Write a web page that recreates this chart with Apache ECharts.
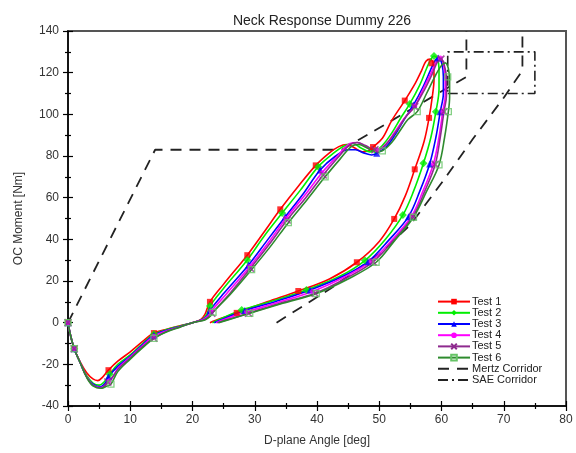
<!DOCTYPE html>
<html><head><meta charset="utf-8">
<script src="https://cdn.jsdelivr.net/npm/echarts@6/dist/echarts.min.js"></script>
<style>html,body{margin:0;padding:0;background:#fff}#c{width:576px;height:453px}</style>
</head><body><div id="c"></div>
<script>
const chartTitle = 'Neck Response Dummy 226';
const xAxisName = 'D-plane Angle [deg]';
const yAxisName = 'OC Moment [Nm]';
const xTicks = [0,10,20,30,40,50,60,70,80];
const yTicks = [-40,-20,0,20,40,60,80,100,120,140];
const testNames = ['Test 1','Test 2','Test 3','Test 4','Test 5','Test 6'];
const corridorNames = ['Mertz Corridor','SAE Corridor'];

const test1Curve = [[0,0],[0.4,-6],[1,-12.5],[2,-19],[3,-24],[4,-27],[4.8,-27.8],[5.6,-26],[6.5,-22.8],[8,-18.5],[10,-14],[12,-9],[13.8,-5],[16,-3],[18,-1.5],[20,0],[21.3,1.5],[22,4],[22.8,10],[25,18.5],[28.8,32.4],[31.5,43.5],[34.1,54.4],[37,65.5],[39.8,75.5],[42,81.5],[43.5,84.5],[44.8,85.5],[46,84],[47.3,82],[48.3,82.5],[49,84.3],[50.5,88.5],[52,97],[54.1,106.6],[55.8,115],[56.8,121],[57.5,125.5],[58.2,126.5],[58.7,124],[58.8,117],[58.5,108],[58,98.3],[57.2,87],[55.7,73.6],[54.2,61],[52.4,49.8],[50,39],[46.4,29],[42,21],[37,15.2],[32,10],[27.1,4.7],[24.5,2],[22.8,0]];
const test1Marks = [[0,0],[1,-12.5],[6.5,-22.8],[13.8,-5],[22.8,10],[28.8,32.4],[34.1,54.4],[39.8,75.5],[49,84.3],[54.1,106.6],[58.4,124.5],[58,98.3],[55.7,73.6],[52.4,49.8],[46.4,29],[37,15.2],[27.1,4.7]];

const test2Curve = [[0,0],[0.4,-6],[1,-12.5],[2,-19.5],[3,-25.5],[4,-29],[5,-30],[5.8,-28.5],[6.7,-24.7],[8,-20],[10,-15.5],[12,-10],[13.8,-5.5],[16,-3.2],[18,-1.6],[20,0],[21.5,1.5],[22.3,4],[22.8,8],[25,16.5],[28.8,30.1],[31.5,41.5],[34.4,52.6],[37.3,63.5],[40.2,74.9],[42.5,81],[44.5,85],[45.8,86],[47,84],[48.5,82],[49.5,82.5],[50.5,85],[52,91],[53.5,98.5],[54.9,105],[56.5,114],[57.6,122],[58.3,126.5],[58.8,128],[59.3,127],[59.6,122],[59.6,112],[59.1,101.3],[58.3,89],[57.1,76.5],[55.5,63],[53.8,51.7],[51,40],[47.7,29.8],[43.5,22],[38.3,15.7],[33,10.5],[27.9,6.1],[25,2.5],[23.2,0]];
const test2Marks = [[0,0],[1,-12.5],[6.7,-24.7],[13.8,-5.5],[22.8,8],[28.8,30.1],[34.4,52.6],[40.2,74.9],[49.5,82.5],[54.9,105],[58.8,128],[59.1,101.3],[57.1,76.5],[53.8,51.7],[47.7,29.8],[38.3,15.7],[27.9,6.1]];

const test3Curve = [[0,0],[0.4,-6],[1,-12.5],[2,-19.5],[3,-26],[4,-29.5],[5.2,-30.8],[6,-29],[6.5,-26],[8,-21],[10,-16],[12,-10.5],[13.8,-6],[16,-3.5],[18,-1.8],[20,0],[21.6,1.5],[22.4,3.5],[22.8,6],[25,14],[29,27.7],[32,39.5],[34.9,50.8],[37.7,61.5],[40.5,73.3],[43,80],[45,83],[46.2,83],[47.5,81.5],[48.8,80.5],[49.6,81.3],[51,84],[52.5,90],[54,97.5],[55.5,104.5],[57,113],[58.2,121],[59,126],[59.5,127],[60,125],[60.3,118],[60.3,110],[59.8,101.3],[59.1,89],[58.1,76.2],[56.5,63],[54.7,50.9],[51.5,39.5],[48.2,29.3],[44,22],[38.9,15.7],[33.5,10.3],[28.4,5.8],[25.5,2.5],[23.5,0]];
const test3Marks = [[0,0],[1,-12.5],[6.5,-26],[13.8,-6],[22.8,6],[29,27.7],[34.9,50.8],[40.5,73.3],[49.6,81.3],[55.5,104.5],[59.5,127],[59.8,101.3],[58.1,76.2],[54.7,50.9],[48.2,29.3],[38.9,15.7],[28.4,5.8]];

const test4Curve = [[0,0],[0.4,-6],[1,-12.5],[2,-19.5],[3,-26],[4,-30],[5.3,-31.2],[6.2,-29.5],[7,-27],[8,-22],[10,-16.5],[12,-11],[13.8,-6.5],[16,-3.8],[18,-2],[20,0],[21.7,1.5],[22.6,3.5],[23,5.5],[25.5,14],[29.2,27],[32.2,38.5],[35,50],[38,61],[40.8,72],[43.3,80],[45.3,86],[46.5,86.5],[47.5,85],[48.8,83],[49.6,83],[51,85.5],[52.5,91.5],[54,98],[55.7,104],[57.2,113],[58.5,121],[59.3,126],[59.8,127],[60.3,124.5],[60.6,117],[60.6,109],[60.2,101.3],[59.6,89],[58.7,76.2],[57,63],[55.2,51.2],[52,39.5],[48.7,29.5],[44.5,22],[39.3,15],[34,10],[28.7,5.2],[25.8,2.3],[23.8,0]];
const test4Marks = [[0,0],[1,-12.5],[6.6,-28],[13.8,-6.5],[23,5.5],[29.2,27],[35,50],[40.8,72],[49.6,83],[55.7,104],[59.8,127],[60.2,101.3],[58.7,76.2],[55.2,51.2],[48.7,29.5],[39.3,15],[28.7,5.2]];

const test5Curve = [[0,0],[0.4,-6],[1,-12.5],[2,-19.5],[3,-26],[4,-30],[5.3,-31.5],[6.4,-28.5],[7.2,-26],[8,-22.5],[10,-17],[12,-11.5],[13.8,-7.5],[16,-4],[18,-2],[20,0],[21.8,1.3],[22.7,3],[23.1,4.5],[26,14],[29.3,26.1],[32.3,37.5],[35.2,49.3],[38.2,60],[41,70.9],[43.3,79],[45.3,85.5],[46.5,86.5],[47.8,85],[49.3,83],[50.3,83.5],[51.5,87],[53,93],[54.3,99],[55.7,103.7],[57.3,112],[58.6,120],[59.4,125.5],[59.9,126.5],[60.4,124],[60.8,117],[60.8,109],[60.4,101.3],[59.8,89],[59,76],[57.3,63],[55.4,51],[52.3,39.5],[49,29.2],[44.8,21.5],[39.7,14.1],[34.3,9.5],[29,4.5],[26,1.8],[24,0]];
const test5Marks = [[0,0],[1,-12.5],[6.4,-28.5],[13.8,-7.5],[23.1,4.5],[29.3,26.1],[35.2,49.3],[41,70.9],[49.3,83],[55.7,103.7],[59.9,126.5],[60.4,101.3],[59,76],[55.4,51],[49,29.2],[39.7,14.1],[29,4.5]];

const test6Curve = [[0,0],[0.4,-6],[1,-12.5],[2,-19.5],[3,-26.3],[4,-30.3],[5.4,-31.5],[6.2,-30.5],[6.9,-29.5],[8,-23.5],[10,-17.5],[12,-12],[13.8,-7.5],[16,-4.2],[18,-2.2],[20,0],[22,1.3],[22.8,3],[23.3,5],[26.2,14],[29.5,25.5],[32.5,36.5],[35.4,48],[38.4,59],[41.3,70],[43.7,78.5],[45.5,84.5],[46.7,85.5],[48,84],[49.5,82],[50.5,82.5],[52,86.5],[53.3,92],[54.6,97.5],[56.1,101.3],[57.6,110],[59,118.5],[60,123.5],[60.6,124.7],[61.1,122],[61.3,116],[61.3,108],[61.1,101.3],[60.5,89],[59.6,75.7],[57.6,63],[55.5,50.6],[52.5,39.5],[49.5,29],[45,21],[39.9,14],[34.5,9.3],[29.2,4.5],[26.2,1.8],[24.2,0]];
const test6Marks = [[0,0],[1,-12.5],[6.9,-29.5],[13.8,-7.5],[23.3,5],[29.5,25.5],[35.4,48],[41.3,70],[50.5,82.5],[56.1,101.3],[61,118],[61.1,101.3],[59.6,75.7],[55.5,50.6],[49.5,29],[39.9,14],[29.2,4.5]];

const mertzUpper = [[0,0],[14,83],[44,83],[64,118],[64,140]];
const mertzLower = [[33.5,0],[42,16],[50,33],[55,47],[60,67],[65,88],[70,108],[73,121],[73,140]];
const saeBox = [[61,110],[75,110],[75,130],[61,130],[61,110]];

const curves = [test1Curve,test2Curve,test3Curve,test4Curve,test5Curve,test6Curve];
const marks = [test1Marks,test2Marks,test3Marks,test4Marks,test5Marks,test6Marks];

const FONT = 'Liberation Sans, Arial, sans-serif';
const colors = ['#ff0000','#00ee00','#0000ff','#ff00ff','#8e2a8e','#2e8b2e'];
const xMark = 'path://M0,0L10,10M10,0L0,10';
const symbols = ['rect','diamond','triangle','circle',xMark,'rect'];
const symSizes = [6,8,7,5,7,6];
const markStyles = [
  {color:'#ff0000'},
  {color:'#00ee00'},
  {color:'#0000ff'},
  {color:'#ff00ff'},
  {color:'rgba(0,0,0,0)', borderColor:'#8e2a8e', borderWidth:1.6},
  {color:'rgba(255,255,255,0)', borderColor:'#66c466', borderWidth:1.3}
];

const series = [];
curves.forEach((c,i)=>{
  series.push({
    name: testNames[i], type:'line', data:c, smooth:0.35, showSymbol:false,
    symbol: symbols[i], symbolSize: symSizes[i],
    lineStyle:{color:colors[i], width:1.6},
    itemStyle: markStyles[i],
    z: 3+i, animation:false
  });
});
curves.forEach((c,i)=>{
  series.push({
    name: testNames[i]+' marks', type:'scatter', data:marks[i],
    symbol: symbols[i], symbolSize: symSizes[i], itemStyle: markStyles[i], z: 10+i, animation:false
  });
});
const corrLine = {color:'#222', width:1.8, type:[11,8]};
const saeLine = {color:'#222', width:1.6, type:[10,4,2,4]};
series.push({name:corridorNames[0], type:'line', data:mertzUpper, showSymbol:false, symbol:'none',
  lineStyle:corrLine, itemStyle:{color:'#222'}, z:2, animation:false});
series.push({name:corridorNames[0], type:'line', data:mertzLower, showSymbol:false, symbol:'none',
  lineStyle:corrLine, itemStyle:{color:'#222'}, z:2, animation:false});
series.push({name:corridorNames[1], type:'line', data:saeBox, showSymbol:false, symbol:'none',
  lineStyle:saeLine, itemStyle:{color:'#222'}, z:2, animation:false});

const tickStyle = {color:'#000', width:1.2};
function xAxisBase(inside){
  return {type:'value', min:xTicks[0], max:xTicks[xTicks.length-1], interval:xTicks[1]-xTicks[0],
    position:'bottom', splitLine:{show:false},
    axisLine:{show:!inside, onZero:false, lineStyle:{color:'#000', width:1.5}},
    axisTick:{show:true, inside:inside, length:5, lineStyle:tickStyle},
    minorTick:{show:true, splitNumber:2, length:3, lineStyle:tickStyle},
    axisLabel:{show:!inside, color:'#333', fontSize:12, fontFamily:FONT, margin:8},
    name: inside?'':xAxisName, nameLocation:'middle', nameGap:29,
    nameTextStyle:{color:'#333', fontSize:12, fontFamily:FONT}};
}
function yAxisBase(inside){
  return {type:'value', min:yTicks[0], max:yTicks[yTicks.length-1], interval:yTicks[1]-yTicks[0],
    position:'left', splitLine:{show:false},
    axisLine:{show:!inside, onZero:false, lineStyle:{color:'#000', width:1.5}},
    axisTick:{show:true, inside:inside, length:5, lineStyle:tickStyle},
    minorTick:{show:true, splitNumber:2, length:3, lineStyle:tickStyle},
    axisLabel:{show:!inside, color:'#333', fontSize:12, fontFamily:FONT, margin:9},
    name: inside?'':yAxisName, nameLocation:'middle', nameGap:43, nameRotate:90,
    nameTextStyle:{color:'#333', fontSize:12, fontFamily:FONT}};
}

const legendData = testNames.map(n=>({name:n})).concat(
  corridorNames.map(n=>({name:n, itemStyle:{color:'rgba(0,0,0,0)', borderWidth:0, opacity:0}})));

const chart = echarts.init(document.getElementById('c'), null, {renderer:'canvas'});
chart.setOption({
  animation:false,
  backgroundColor:'#fff',
  title:{text:chartTitle, left:317, textAlign:'center', top:9,
    textStyle:{fontSize:14, fontWeight:'normal', color:'#222', fontFamily:FONT}},
  grid:{left:68, right:10, top:31, bottom:47, show:true, borderColor:'#555', borderWidth:2, backgroundColor:'#fff'},
  xAxis:[xAxisBase(false), xAxisBase(true)],
  yAxis:[yAxisBase(false), yAxisBase(true)],
  legend:{data: legendData, orient:'vertical', left:437, top:296,
    itemWidth:32, itemHeight:7, itemGap:0, padding:0,
    textStyle:{fontSize:11, lineHeight:11.2, fontFamily:FONT, color:'#222', padding:[0,0,0,-3]}},
  series: series
});
</script></body></html>
